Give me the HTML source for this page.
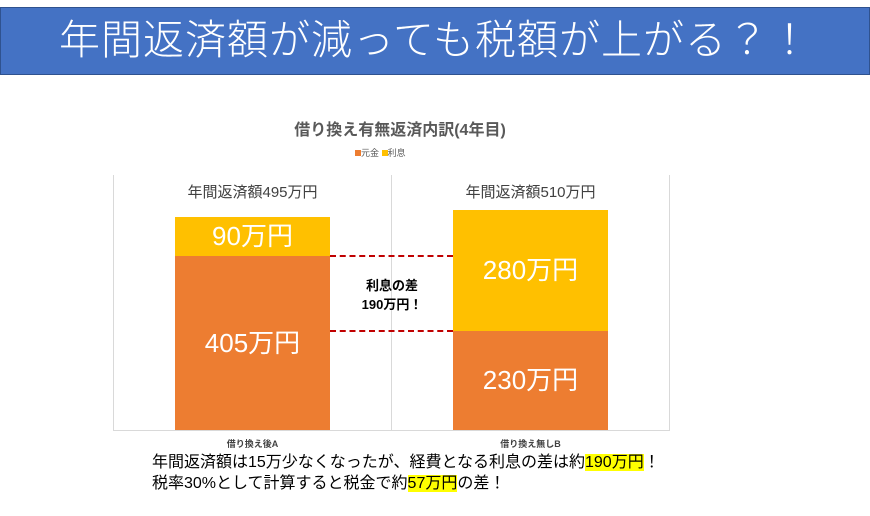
<!DOCTYPE html>
<html><head><meta charset="utf-8"><style>
body{margin:0;width:870px;height:516px;background:#fff;position:relative;overflow:hidden;font-family:"Liberation Sans","Noto Sans CJK JP",sans-serif}
.a{position:absolute;white-space:nowrap}
</style></head><body>
<div class="a" style="left:0;top:7px;width:868px;height:66px;background:#4472c4;border:1px solid #2f528f;"></div>
<div class="a" style="left:0;top:12px;width:870px;text-align:center;color:#fff;font-size:41px;line-height:56px;letter-spacing:1px;font-weight:300">年間返済額が減っても税額が上がる？！</div>
<div class="a" style="left:200px;top:116px;width:400px;text-align:center;color:#595959;font-size:16px;font-weight:bold">借り換え有無返済内訳(4年目)</div>
<div class="a" style="left:355px;top:146px;font-size:9px;color:#595959"><span style="display:inline-block;width:6px;height:6px;background:#ed7d31"></span>元金 <span style="display:inline-block;width:6px;height:6px;background:#ffc000"></span>利息</div>
<div class="a" style="left:113px;top:175px;width:1px;height:255px;background:#d9d9d9"></div>
<div class="a" style="left:391px;top:175px;width:1px;height:255px;background:#d9d9d9"></div>
<div class="a" style="left:669px;top:175px;width:1px;height:255px;background:#d9d9d9"></div>
<div class="a" style="left:113px;top:430px;width:557px;height:1px;background:#d9d9d9"></div>
<div class="a" style="left:175px;top:181px;width:155px;text-align:center;font-size:15px;color:#404040">年間返済額495万円</div>
<div class="a" style="left:453px;top:181px;width:155px;text-align:center;font-size:15px;color:#404040">年間返済額510万円</div>
<div class="a" style="left:175px;top:217px;width:155px;height:39px;background:#ffc000;color:#fff;font-size:26px;text-align:center;line-height:39px">90万円</div>
<div class="a" style="left:175px;top:256px;width:155px;height:174px;background:#ed7d31;color:#fff;font-size:26px;text-align:center;line-height:174px">405万円</div>
<div class="a" style="left:453px;top:210px;width:155px;height:121px;background:#ffc000;color:#fff;font-size:26px;text-align:center;line-height:121px">280万円</div>
<div class="a" style="left:453px;top:331px;width:155px;height:99px;background:#ed7d31;color:#fff;font-size:26px;text-align:center;line-height:99px">230万円</div>
<div class="a" style="left:330px;top:255px;width:123px;border-top:2px dashed #c00000"></div>
<div class="a" style="left:330px;top:330px;width:123px;border-top:2px dashed #c00000"></div>
<div class="a" style="left:342px;top:276px;width:100px;text-align:center;font-size:13px;font-weight:bold;line-height:19px;color:#000">利息の差<br>190万円！</div>
<div class="a" style="left:175px;top:437px;width:155px;text-align:center;font-size:9px;font-weight:bold;color:#404040">借り換え後A</div>
<div class="a" style="left:453px;top:437px;width:155px;text-align:center;font-size:9px;font-weight:bold;color:#404040">借り換え無しB</div>
<div class="a" style="left:152px;top:452px;font-size:16px;line-height:21px;color:#000">年間返済額は15万少なくなったが、経費となる利息の差は約<span style="background:#ffff00">190万円</span>！<br>税率30%として計算すると税金で約<span style="background:#ffff00">57万円</span>の差！</div>
</body></html>
